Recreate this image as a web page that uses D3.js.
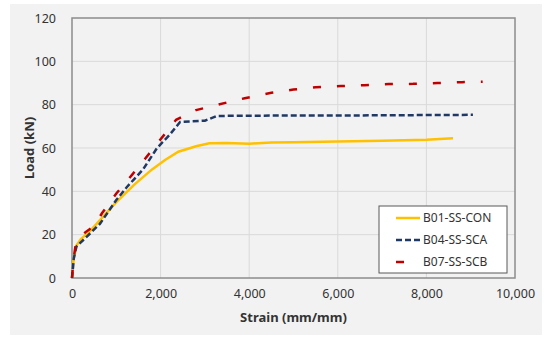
<!doctype html>
<html lang="en">
<head>
    <meta charset="utf-8">
    <title>Load vs Strain</title>
    <script src="https://d3js.org/d3.v7.min.js"></script>
    <style>
        body { margin: 0; background: #fff; }
        svg text { font-family: "Noto Sans", "Open Sans", sans-serif; fill: #333; }
    </style>
</head>
<body>
    <div id="chart"></div>
    <script>
        // Series data (strain, load)
        var seriesNames = ["B01-SS-CON", "B04-SS-SCA", "B07-SS-SCB"];

        var conStrain = [0, 40, 100, 200, 400, 600, 1000, 1400, 1800, 2100, 2400, 2800, 3100, 3500, 4000, 4500, 5000, 6000, 7000, 8000, 8600];
        var conLoad   = [0, 9, 15, 18, 21.5, 26, 35, 43, 50, 54.5, 58.3, 60.8, 62.2, 62.3, 62, 62.5, 62.7, 63, 63.3, 63.8, 64.5];

        var scaStrain = [0, 40, 100, 330, 630, 1000, 1240, 1600, 1920, 2200, 2440, 3000, 3270, 4000, 5000, 6000, 7000, 8000, 9050];
        var scaLoad   = [0, 9, 14.5, 19, 25, 36, 42, 50, 60, 66, 72, 72.6, 74.8, 74.9, 75, 75, 75.1, 75.2, 75.3];

        var scbStrain = [0, 30, 80, 180, 320, 500, 680, 1000, 1350, 1650, 2000, 2350, 2800, 3300, 3900, 4500, 5000, 5500, 6070, 6600, 7150, 7700, 8250, 8800, 9270];
        var scbLoad   = [0, 8, 15, 19, 21.4, 24, 30, 39, 47.5, 55, 64, 73, 77.5, 80, 83, 85.5, 87, 88, 88.6, 89, 89.5, 89.6, 90, 90.4, 90.6];

        var xTicks = [0, 2000, 4000, 6000, 8000, 10000];
        var yTicks = [0, 20, 40, 60, 80, 100, 120];

        var colors  = ["#ffc000", "#1f3864", "#c00000"];
        var dashes  = [null, "6,3", "8,16"];

        var width = 550, height = 341;
        var margin = { left: 72, top: 18, right: 35, bottom: 63 };

        var svg = d3.select("#chart").append("svg")
            .attr("width", width)
            .attr("height", height);

        // Chart area background
        svg.append("rect")
            .attr("x", 10).attr("y", 4)
            .attr("width", 532).attr("height", 331)
            .attr("fill", "#f2f2f2");

        var x = d3.scaleLinear().domain([0, 10000]).range([margin.left, width - margin.right]);
        var y = d3.scaleLinear().domain([0, 120]).range([height - margin.bottom, margin.top]);

        // Gridlines
        svg.append("g").selectAll("line.v")
            .data(xTicks.slice(1, -1))
            .enter().append("line")
            .attr("x1", function(d) { return x(d); })
            .attr("x2", function(d) { return x(d); })
            .attr("y1", y(0)).attr("y2", y(120))
            .attr("stroke", "#d9d9d9");

        svg.append("g").selectAll("line.h")
            .data(yTicks.slice(1, -1))
            .enter().append("line")
            .attr("x1", x(0)).attr("x2", x(10000))
            .attr("y1", function(d) { return y(d); })
            .attr("y2", function(d) { return y(d); })
            .attr("stroke", "#d9d9d9");

        // Plot border
        svg.append("rect")
            .attr("x", x(0)).attr("y", y(120))
            .attr("width", x(10000) - x(0)).attr("height", y(0) - y(120))
            .attr("fill", "none")
            .attr("stroke", "#8c8c8c")
            .attr("stroke-width", 1.5);

        // Axes (labels only)
        var xAxis = svg.append("g")
            .attr("transform", "translate(0," + (y(0) + 8) + ")")
            .call(d3.axisBottom(x).tickValues(xTicks).tickSize(0).tickFormat(d3.format(",")));
        var yAxis = svg.append("g")
            .attr("transform", "translate(" + (x(0) - 13) + ",0)")
            .call(d3.axisLeft(y).tickValues(yTicks).tickSize(0));
        [xAxis, yAxis].forEach(function(a) {
            a.select(".domain").remove();
            a.selectAll("text")
                .style("font-family", "'Noto Sans', sans-serif")
                .style("font-size", "12.5px")
                .attr("fill", "#404040");
        });

        // Axis titles
        svg.append("text")
            .attr("x", (x(0) + x(10000)) / 2)
            .attr("y", 322)
            .attr("text-anchor", "middle")
            .style("font-size", "13px")
            .style("font-weight", "bold")
            .text("Strain (mm/mm)");

        svg.append("text")
            .attr("transform", "translate(34," + ((y(0) + y(120)) / 2) + ") rotate(-90)")
            .attr("text-anchor", "middle")
            .style("font-size", "13px")
            .style("font-weight", "bold")
            .text("Load (kN)");

        // Lines
        var series = [
            { xs: conStrain, ys: conLoad },
            { xs: scaStrain, ys: scaLoad },
            { xs: scbStrain, ys: scbLoad }
        ];

        var line = d3.line()
            .x(function(d) { return x(d[0]); })
            .y(function(d) { return y(d[1]); });

        series.forEach(function(s, i) {
            var pts = s.xs.map(function(v, j) { return [v, s.ys[j]]; });
            svg.append("path")
                .datum(pts)
                .attr("d", line)
                .attr("fill", "none")
                .attr("stroke", colors[i])
                .attr("stroke-width", 2.5)
                .attr("stroke-dasharray", dashes[i]);
        });

        // Legend
        var legend = svg.append("g").attr("transform", "translate(379,206)");
        legend.append("rect")
            .attr("width", 128).attr("height", 67)
            .attr("fill", "#fff")
            .attr("stroke", "#595959");

        var item = legend.selectAll("g.item")
            .data(seriesNames)
            .enter().append("g")
            .attr("transform", function(d, i) { return "translate(0," + (12 + i * 22) + ")"; });

        item.append("line")
            .attr("x1", 17).attr("x2", 41)
            .attr("stroke", function(d, i) { return colors[i]; })
            .attr("stroke-width", 2.5)
            .attr("stroke-dasharray", function(d, i) { return dashes[i]; });

        item.append("text")
            .attr("x", 44)
            .attr("dy", "0.35em")
            .style("font-size", "12px")
            .attr("fill", "#262626")
            .text(function(d) { return d; });
    </script>
</body>
</html>
